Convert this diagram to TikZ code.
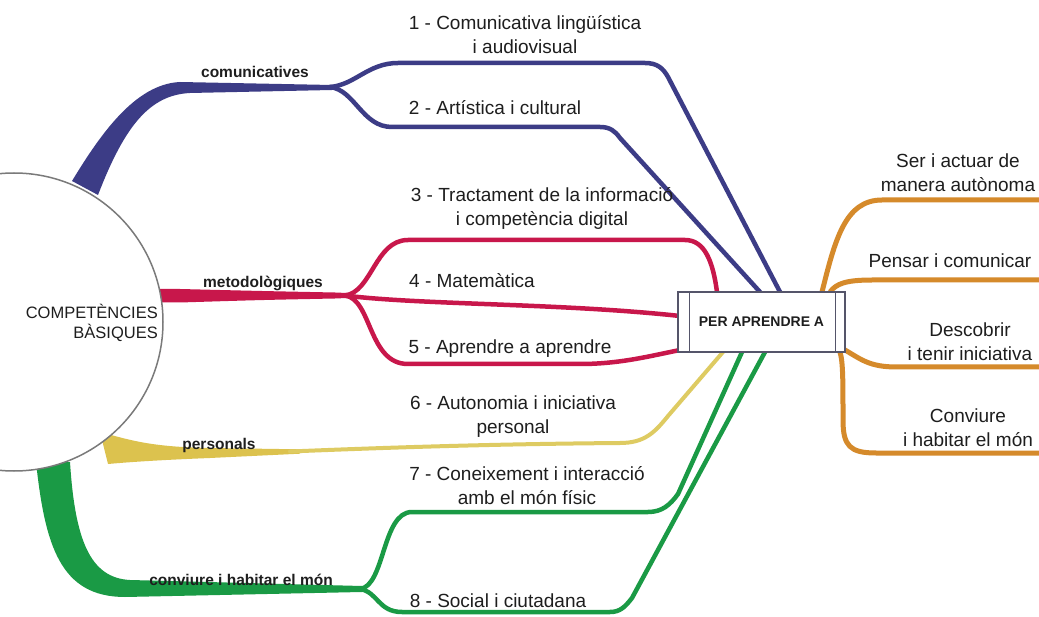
\documentclass[tikz,border=0pt]{standalone}
\usepackage{fontspec}
\setmainfont{Liberation Sans}
\definecolor{cblue}{HTML}{3C3C86}
\definecolor{cred}{HTML}{C8174B}
\definecolor{cyel}{HTML}{DCC24E}
\definecolor{cyelt}{HTML}{DECB62}
\definecolor{cgreen}{HTML}{1A9A45}
\definecolor{corange}{HTML}{D58A2B}
\definecolor{circc}{HTML}{7A7A7A}
\definecolor{boxc}{HTML}{55556A}
\definecolor{txt}{HTML}{1E1E1E}
\begin{document}
\begin{tikzpicture}[x=1pt,y=-1pt,
  item/.style={font=\fontsize{19}{24}\selectfont, align=center, text=txt, inner sep=0pt},
  lab/.style={font=\fontsize{15.5}{17}\selectfont\bfseries, text=txt, inner sep=0pt},
  thin/.style={line width=4.5pt, line cap=round},
  oline/.style={line width=5pt, draw=corange}]
\useasboundingbox (0,0) rectangle (1039,617);
\fill[white] (0,0) rectangle (1039,617);

% junction coordinates
\coordinate (jB) at (330,87);
\coordinate (jR) at (345,295.5);
\coordinate (jG) at (360,589);
\coordinate (eY) at (290,451.5);
% box end points
\coordinate (b1) at (780,292);
\coordinate (b2) at (760,292);
\coordinate (b3) at (717,292);
\coordinate (b4) at (680,316);
\coordinate (b5) at (680,350);
\coordinate (b6) at (723,352);
\coordinate (b7) at (742,352);
\coordinate (b8) at (765,352);
\coordinate (o1) at (822,292);
\coordinate (o2) at (830,292);
\coordinate (o3) at (845,350);
\coordinate (o4) at (840,352);
\coordinate (r1) at (1039,200);
\coordinate (r2) at (1039,280);
\coordinate (r3) at (1039,367);
\coordinate (r4) at (1039,453);

% trunks
\fill[cblue] (72,181) .. controls (100,135) and (135,84) .. (180,82) -- (332,85) -- (332,90) -- (190,93) .. controls (150,95) and (125,125) .. (98,195) -- cycle;
\fill[cred] (150,289) -- (180,289) .. controls (260,291) .. (335,292.5) -- (347,293) -- (347,298) -- (335,298.5) .. controls (260,300) .. (180,302.5) -- (150,302.5) -- cycle;
\fill[cyel] (100,432) .. controls (130,440) and (150,447) .. (210,448) -- (300,449.3) -- (300,453.7) -- (210,458) .. controls (160,460) and (130,462) .. (108,464) -- cycle;
\fill[cgreen] (36,462) .. controls (45,545) and (60,597) .. (125,597) -- (362,592) -- (362,586) -- (130,580) .. controls (90,578) and (75,540) .. (70,462) -- cycle;

% blue branches
\draw[thin, cblue] (jB) .. controls (355,85) and (368,63) .. (398,63) -- (645,63) .. controls (657,63) and (663,68) .. (668,77) -- (b1);
\draw[thin, cblue] (jB) .. controls (355,90) and (362,127) .. (392,127) -- (600,127) .. controls (610,127) and (615,131) .. (620,138) -- (b2);
% red branches
\draw[thin, cred] (jR) .. controls (372,292) and (375,240) .. (408,240) -- (685,240) .. controls (705,240) and (713,262) .. (b3);
\draw[thin, cred] (jR) .. controls (420,305) and (560,303) .. (b4);
\draw[thin, cred] (jR) .. controls (372,299) and (368,364) .. (408,364) -- (580,364) .. controls (620,364) and (650,356) .. (b5);
% yellow
\draw[thin, cyelt, line width=4pt] (eY) .. controls (400,447) and (500,444) .. (620,443) .. controls (645,443) and (655,432) .. (668,416) -- (b6);
% green
\draw[thin, cgreen] (jG) .. controls (385,586) and (382,512) .. (412,512) -- (648,512) .. controls (662,512) and (670,505) .. (678,494) -- (b7);
\draw[thin, cgreen] (jG) .. controls (378,592) and (378,612) .. (402,612) -- (610,612) .. controls (620,612) and (625,607) .. (632,598) -- (b8);
% orange
\draw[oline] (o1) .. controls (835,240) and (845,200) .. (882,200) -- (r1);
\draw[oline] (o2) .. controls (836,284) and (845,280) .. (872,280) -- (r2);
\draw[oline] (o3) .. controls (862,360) and (870,367) .. (897,367) -- (r3);
\draw[oline] (o4) .. controls (843,362) and (843,380) .. (843,420) .. controls (843,446) and (850,453) .. (876,453) -- (r4);

% central circle
\node[circle, draw=circc, fill=white, line width=1.5pt, minimum size=298pt, inner sep=0pt] (cb) at (14,322) {};
\node[anchor=east, align=right, font=\fontsize{16.5}{19.5}\selectfont, text=txt, inner sep=0pt] (ct) at (158,323) {COMPETÈNCIES\\BÀSIQUES};

% box
\node[draw=boxc, fill=white, line width=1.2pt, minimum width=167pt, minimum height=60pt, inner sep=0pt, font=\fontsize{14}{16}\selectfont\bfseries, text=txt] (box) at (761.5,322) {PER APRENDRE A};
\draw[boxc, line width=1.2pt] ([xshift=12pt]box.north west) -- ([xshift=12pt]box.south west);
\draw[boxc, line width=1.2pt] ([xshift=-10pt]box.north east) -- ([xshift=-10pt]box.south east);

% branch labels
\node[lab] (lcom) at (255,72) {comunicatives};
\node[lab] (lmet) at (263,283) {metodològiques};
\node[lab] (lper) at (219,445) {personals};
\node[lab] (lcon) at (241,580) {conviure i habitar el món};

% items
\node[item] (i1) at (525,35) {1 - Comunicativa lingüística\\i audiovisual};
\node[item] (i2) at (495,108) {2 - Artística i cultural};
\node[item] (i3) at (542,208) {3 - Tractament de la informació\\i competència digital};
\node[item] (i4) at (472,281) {4 - Matemàtica};
\node[item] (i5) at (510,349) {5 - Aprendre a aprendre};
\node[item] (i6) at (513,417) {6 - Autonomia i iniciativa\\personal};
\node[item] (i7) at (527,486) {7 - Coneixement i interacció\\amb el món físic};
\node[item] (i8) at (498,601) {8 - Social i ciutadana};

% right
\node[item] (a1) at (958,173) {Ser i actuar de\\manera autònoma};
\node[item] (a2) at (950,261) {Pensar i comunicar};
\node[item] (a3) at (970,342) {Descobrir\\i tenir iniciativa};
\node[item] (a4) at (968,428) {Conviure\\i habitar el món};
\end{tikzpicture}
\end{document}
